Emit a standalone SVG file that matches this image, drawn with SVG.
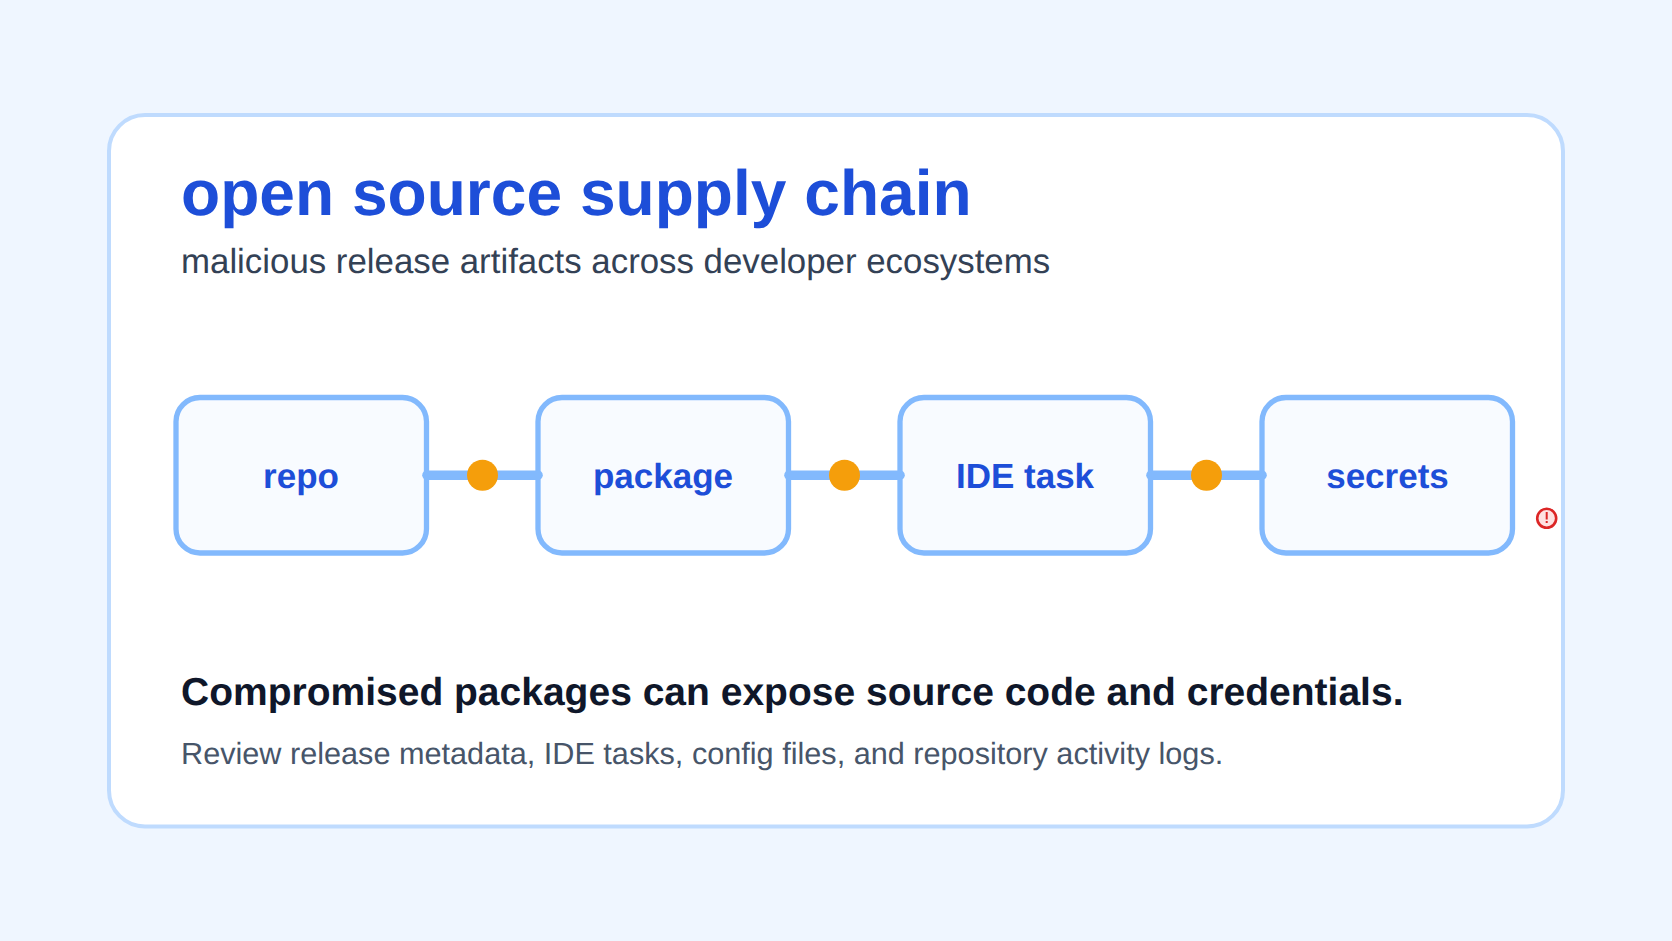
<svg xmlns="http://www.w3.org/2000/svg" width="1672" height="941" viewBox="0 0 1672 941">
<style>
text{font-family:"Liberation Sans",Arial,sans-serif;text-rendering:geometricPrecision}
.box{fill:#f8fbff;stroke:#82b9fd;stroke-width:5.3}
.lbl{font-size:35px;font-weight:700;fill:#1d4ed8;text-anchor:middle}
.link{stroke:#82b9fd;stroke-width:9.6;stroke-linecap:round;fill:none}
.dot{fill:#f59e0b}
</style>
<rect width="1672" height="941" fill="#eff6ff"/>
<rect id="card" x="109" y="115" width="1454" height="711.5" rx="36" fill="#fff" stroke="#bfdbfe" stroke-width="4"/>
<text x="181" y="215" font-size="64.1" font-weight="700" fill="#1d4ed8">open source supply chain</text>
<text x="181" y="273" font-size="34.85" fill="#334155">malicious release artifacts across developer ecosystems</text>
<g id="repo"><rect class="box" x="176" y="397.5" width="250.5" height="155.5" rx="24"/><text class="lbl" x="301" y="488">repo</text></g>
<g id="package"><rect class="box" x="538" y="397.5" width="250.5" height="155.5" rx="24"/><text class="lbl" x="663" y="488">package</text></g>
<g id="ide-task"><rect class="box" x="900" y="397.5" width="250.5" height="155.5" rx="24"/><text class="lbl" x="1025" y="488">IDE task</text></g>
<g id="secrets"><rect class="box" x="1262" y="397.5" width="250.5" height="155.5" rx="24"/><text class="lbl" x="1387.500" y="488">secrets</text></g>
<g id="connectors">
<path class="link" d="M427 475.2H538"/><path class="link" d="M789 475.2H900"/><path class="link" d="M1151 475.2H1262"/>
<circle class="dot" cx="482.5" cy="475.2" r="15.5"/><circle class="dot" cx="844.5" cy="475.2" r="15.5"/><circle class="dot" cx="1206.5" cy="475.2" r="15.5"/>
</g>
<g id="alert"><circle cx="1546.7" cy="518.3" r="9.5" fill="#fee2e2" stroke="#dc2626" stroke-width="2.6"/><rect x="1545.7" y="512" width="2" height="7.5" fill="#dc2626"/><rect x="1545.7" y="521" width="2" height="2" fill="#dc2626"/></g>
<text x="181" y="705" font-size="39" font-weight="700" fill="#0f172a">Compromised packages can expose source code and credentials.</text>
<text x="181" y="764" font-size="30.65" fill="#475569">Review release metadata, IDE tasks, config files, and repository activity logs.</text>
</svg>
